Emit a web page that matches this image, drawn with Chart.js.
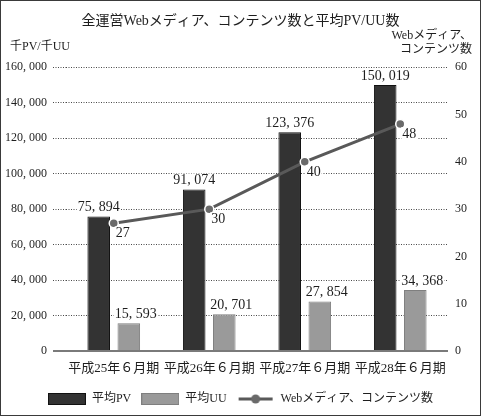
<!DOCTYPE html>
<html><head><meta charset="utf-8">
<script src="https://cdn.jsdelivr.net/npm/chart.js@4.4.0/dist/chart.umd.min.js"></script>
<style>html,body{margin:0;padding:0;background:#fff}#wrap{width:481px;height:416px;position:relative}</style>
</head><body><div id="wrap"><canvas id="c" width="481" height="416"></canvas></div>
<script>
const categories = ['平成25年６月期', '平成26年６月期', '平成27年６月期', '平成28年６月期'];
const avgPV = [75894, 91074, 123376, 150019];
const avgUU = [15593, 20701, 27854, 34368];
const mediaCount = [27, 30, 40, 48];
const leftTicks = [0, 20000, 40000, 60000, 80000, 100000, 120000, 140000, 160000];
const rightTicks = [0, 10, 20, 30, 40, 50, 60];
const seriesNames = ['平均PV', '平均UU', 'Webメディア、コンテンツ数'];
const titleText = '全運営Webメディア、コンテンツ数と平均PV/UU数';
const leftAxisTitle = '千PV/千UU';
const rightAxisTitle = ['Webメディア、', 'コンテンツ数'];

const FONT = '"Liberation Serif", "Noto Sans CJK JP", serif';
const TXT = '#1e1e1e';
const fmt = v => Number(v).toLocaleString('en-US').replace(/,/g, ', ');

Chart.defaults.font.family = FONT;
Chart.defaults.color = TXT;

function swatch(kind) {
  const c = document.createElement('canvas');
  c.width = 38; c.height = 12;
  const g = c.getContext('2d');
  if (kind === 'line') {
    g.strokeStyle = '#595959'; g.lineWidth = 3;
    g.beginPath(); g.moveTo(2, 6); g.lineTo(36, 6); g.stroke();
    g.fillStyle = '#6a6a6a';
    g.beginPath(); g.arc(19, 6, 4.5, 0, Math.PI * 2); g.fill();
  } else {
    g.fillStyle = kind === 'pv' ? '#333333' : '#9a9a9a';
    g.fillRect(0, 0, 38, 12);
    g.strokeStyle = kind === 'pv' ? '#111' : '#7f7f7f';
    g.lineWidth = 1; g.strokeRect(0.5, 0.5, 37, 11);
  }
  return c;
}
const swatches = [swatch('pv'), swatch('uu'), swatch('line')];

const isZero = ctx => ctx.tick && ctx.tick.value === 0;

const labelPlugin = {
  id: 'valueLabels',
  afterDatasetsDraw(chart) {
    const ctx = chart.ctx;
    ctx.save();
    ctx.font = '14px ' + FONT;
    ctx.textBaseline = 'middle';
    chart.data.datasets.forEach((ds, di) => {
      const meta = chart.getDatasetMeta(di);
      meta.data.forEach((el, i) => {
        const isLine = ds.type === 'line';
        const txt = isLine ? String(ds.data[i]) : fmt(ds.data[i]);
        const w = ctx.measureText(txt).width;
        let left, y;
        if (isLine) { left = el.x + 2; y = el.y + 10; }
        else { const cx = el.x + (di === 1 ? 7 : 0); left = cx - w / 2; y = el.y - 9; }
        ctx.fillStyle = '#fff';
        ctx.fillRect(left - 1, y - 7, w + 2, 14);
        ctx.fillStyle = TXT;
        ctx.textAlign = 'left';
        ctx.fillText(txt, left, y);
      });
    });
    ctx.restore();
  }
};

const framePlugin = {
  id: 'frame',
  afterDraw(chart) {
    const ctx = chart.ctx;
    ctx.save();
    ctx.font = '12px ' + FONT;
    ctx.fillStyle = TXT;
    ctx.textBaseline = 'middle';
    ctx.textAlign = 'left';
    ctx.fillText(leftAxisTitle, 10, 47);
    ctx.textAlign = 'right';
    ctx.fillText(rightAxisTitle[0], 472, 36);
    ctx.fillText(rightAxisTitle[1], 472, 50);
    ctx.strokeStyle = '#3a3a3a';
    ctx.lineWidth = 1;
    ctx.strokeRect(0.5, 0.5, 480, 415);
    ctx.restore();
  }
};

new Chart(document.getElementById('c'), {
  data: {
    labels: categories,
    datasets: [
      { type: 'bar', label: seriesNames[0], data: avgPV, yAxisID: 'y', order: 1,
        backgroundColor: '#333333', borderColor: '#111111', borderWidth: 1,
        categoryPercentage: 0.63, barPercentage: 0.75 },
      { type: 'bar', label: seriesNames[1], data: avgUU, yAxisID: 'y', order: 1,
        backgroundColor: '#9a9a9a', borderColor: '#7f7f7f', borderWidth: 1,
        categoryPercentage: 0.63, barPercentage: 0.75 },
      { type: 'line', label: seriesNames[2], data: mediaCount, yAxisID: 'y1', order: 0,
        borderColor: '#595959', borderWidth: 3, pointRadius: 4.5,
        pointBackgroundColor: '#6a6a6a', pointBorderColor: '#ffffff', pointBorderWidth: 1.5,
        tension: 0 }
    ]
  },
  options: {
    responsive: false,
    animation: false,
    layout: { padding: { top: 0, bottom: 1, left: 0, right: 0 } },
    plugins: {
      tooltip: { enabled: false },
      title: { display: true, text: titleText, color: TXT,
        font: { size: 14, weight: 'normal' }, padding: { top: 13, bottom: 37.5 } },
      legend: {
        position: 'bottom',
        labels: {
          usePointStyle: true, pointStyleWidth: 38, boxWidth: 38, boxHeight: 12,
          padding: 10, color: TXT, font: { size: 12 },
          generateLabels(chart) {
            return chart.data.datasets.map((ds, i) => ({
              text: ds.label, datasetIndex: i, pointStyle: swatches[i],
              fillStyle: 'transparent', strokeStyle: 'transparent', lineWidth: 0,
              fontColor: TXT, hidden: false
            }));
          }
        }
      }
    },
    scales: {
      x: {
        grid: { display: false, drawTicks: false },
        border: { display: false },
        afterFit: s => { s.height = 32; },
        ticks: { font: { size: 13 }, padding: 10, maxRotation: 0, autoSkip: false, color: TXT }
      },
      y: {
        position: 'left', min: 0, max: 160000,
        afterBuildTicks: s => { s.ticks = leftTicks.map(v => ({ value: v })); },
        afterFit: s => { s.width = 66; },
        ticks: { callback: v => fmt(v), font: { size: 12 }, padding: 6, color: TXT },
        grid: {
          display: true, drawOnChartArea: true,
          color: ctx => isZero(ctx) ? '#7a7a7a' : '#4a4a4a',
          lineWidth: ctx => isZero(ctx) ? 2 : 1,
          tickLength: 13,
          tickColor: ctx => isZero(ctx) ? '#7a7a7a' : '#4a4a4a',
          tickWidth: ctx => isZero(ctx) ? 2 : 1,
          tickBorderDash: ctx => isZero(ctx) ? [] : [1, 1.5]
        },
        border: { display: false, dash: ctx => isZero(ctx) ? [] : [1, 1.5] }
      },
      y1: {
        position: 'right', min: 0, max: 60,
        afterBuildTicks: s => { s.ticks = rightTicks.map(v => ({ value: v })); },
        afterFit: s => { s.width = 33; },
        ticks: { font: { size: 12 }, padding: 7, color: TXT },
        grid: { display: false, drawTicks: false, drawOnChartArea: false },
        border: { display: false }
      }
    }
  },
  plugins: [labelPlugin, framePlugin]
});
</script></body></html>
